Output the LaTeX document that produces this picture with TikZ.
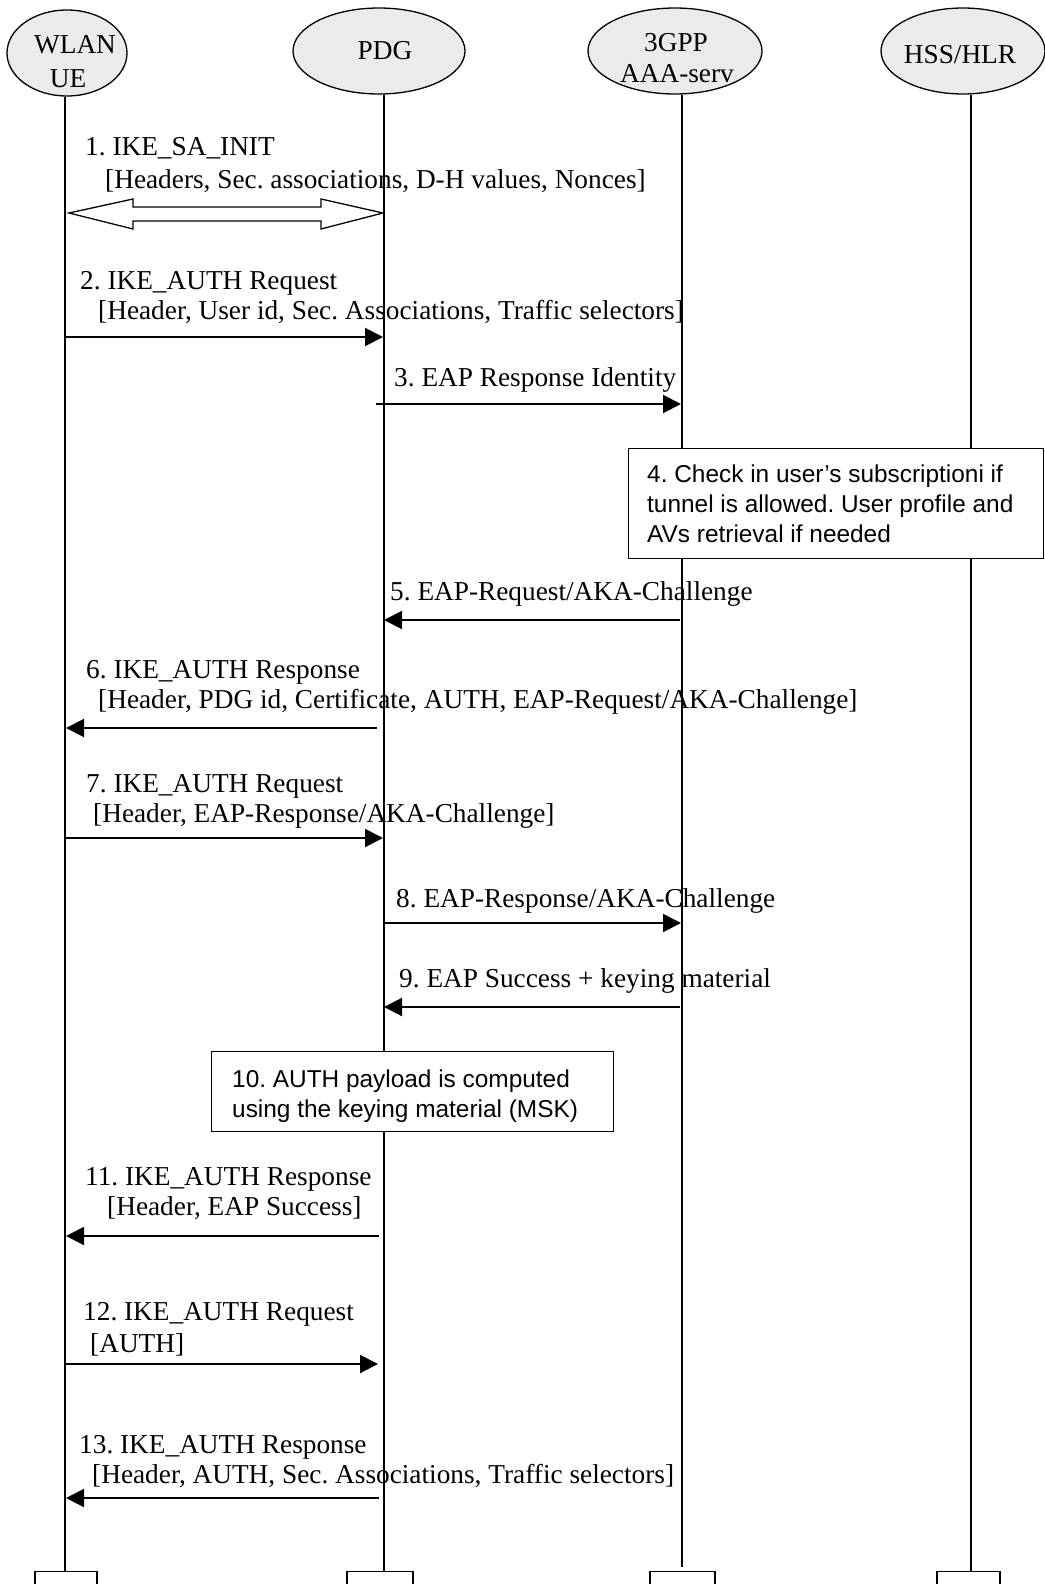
\documentclass[tikz,border=0pt]{standalone}
\usepackage{fontspec}
\setmainfont{Liberation Serif}
\newfontfamily\arialf{Liberation Sans}
\usetikzlibrary{arrows.meta,shapes.geometric}
\frenchspacing
\begin{document}
\frenchspacing
\begin{tikzpicture}[x=1pt,y=-1pt,
  actor/.style={ellipse,draw,line width=1.3pt,fill=black!8,inner sep=0pt,minimum width=#1,minimum height=86pt},
  lifeline/.style={line width=1.3pt},
  msg/.style={line width=2pt,-{Triangle[length=18pt,width=18pt]}},
  lbl/.style={font=\fontsize{27.3}{30}\selectfont,inner sep=0pt,anchor=base west},
  nlbl/.style={font=\arialf\fontsize{24.4}{30}\selectfont,inner sep=0pt,anchor=base west},
  notebox/.style={draw,line width=1.3pt,fill=white,inner sep=0pt,anchor=north west},
  endbox/.style={draw,line width=1.3pt,fill=white,inner sep=0pt,anchor=north,minimum height=40pt}
]
\fill[white] (0,0) rectangle (1044,1584);
\useasboundingbox (0,0) rectangle (1044,1584);

% actors
\node[actor=120pt,minimum height=86pt] (ue) at (67,53) {};
\node[actor=172pt] (pdg) at (379,51) {};
\node[actor=174pt] (aaa) at (675,51) {};
\node[actor=164pt] (hss) at (963,51) {};
\node[lbl,anchor=base] (uet1) at (75,54) {WLAN};
\node[lbl,anchor=base] (uet2) at (68,88) {UE};
\node[lbl,anchor=base] (pdgt) at (385,60) {PDG};
\node[lbl,anchor=base] (aaat1) at (676,52) {3GPP};
\node[lbl,anchor=base] (aaat2) at (677,83) {AAA-serv};
\node[lbl,anchor=base] (hsst) at (960,64) {HSS/HLR};

% lifeline ends
\coordinate (ueL) at (65,1571);
\coordinate (pdgL) at (384,1571);
\coordinate (aaaL) at (682,1567);
\coordinate (hssL) at (971,1571);
\draw[lifeline] (ue.south -| ueL) -- (ueL);
\draw[lifeline] (pdg.south -| pdgL) -- (pdgL);
\draw[lifeline] (aaa.south -| aaaL) -- (aaaL);
\draw[lifeline] (hss.south -| hssL) -- (hssL);

\node[endbox,minimum width=62pt] (ueEnd) at (66,1571) {};
\node[endbox,minimum width=66pt] (pdgEnd) at (380,1571) {};
\node[endbox,minimum width=65pt] (aaaEnd) at (682.5,1571) {};
\node[endbox,minimum width=63pt] (hssEnd) at (968.5,1571) {};

% 1
\node[lbl] (m1a) at (85,155) {1. IKE\_SA\_INIT};
\node[lbl] (m1b) at (105,188) {[Headers, Sec. associations, D-H values, Nonces]};
\draw[line width=1.3pt,fill=white] (69,213) -- (133,199) -- (133,207) -- (321,207) -- (321,199) -- (383,213)
  -- (321,229) -- (321,221) -- (133,221) -- (133,229) -- cycle;

% 2
\node[lbl] (m2a) at (80,289) {2. IKE\_AUTH Request};
\node[lbl] (m2b) at (98,319) {[Header, User id, Sec. Associations, Traffic selectors]};
\coordinate (a2s) at (65,337); \coordinate (a2e) at (383,337);
\draw[msg] (a2s) -- (a2e);

% 3
\node[lbl] (m3) at (394,386) {3. EAP Response Identity};
\coordinate (a3s) at (376,404); \coordinate (a3e) at (681,404);
\draw[msg] (a3s) -- (a3e);

% 4
\node[notebox,minimum width=415pt,minimum height=110pt] (n4) at (628,448) {};
\node[nlbl] (n4a) at (647,482) {4. Check in user’s subscriptioni if};
\node[nlbl] (n4b) at (647,512) {tunnel is allowed. User profile and};
\node[nlbl] (n4c) at (647,542) {AVs retrieval if needed};

% 5
\node[lbl] (m5) at (390,600) {5. EAP-Request/AKA-Challenge};
\coordinate (a5s) at (680,620); \coordinate (a5e) at (384,620);
\draw[msg] (a5s) -- (a5e);

% 6
\node[lbl] (m6a) at (86,678) {6. IKE\_AUTH Response};
\node[lbl] (m6b) at (98,708) {[Header, PDG id, Certificate, AUTH, EAP-Request/AKA-Challenge]};
\coordinate (a6s) at (377,728); \coordinate (a6e) at (66,728);
\draw[msg] (a6s) -- (a6e);

% 7
\node[lbl] (m7a) at (86,792) {7. IKE\_AUTH Request};
\node[lbl] (m7b) at (93,822) {[Header, EAP-Response/AKA-Challenge]};
\coordinate (a7s) at (65,838); \coordinate (a7e) at (383,838);
\draw[msg] (a7s) -- (a7e);

% 8
\node[lbl] (m8) at (396,907) {8. EAP-Response/AKA-Challenge};
\coordinate (a8s) at (384,923); \coordinate (a8e) at (681,923);
\draw[msg] (a8s) -- (a8e);

% 9
\node[lbl] (m9) at (399,987) {9. EAP Success + keying material};
\coordinate (a9s) at (680,1007); \coordinate (a9e) at (384,1007);
\draw[msg] (a9s) -- (a9e);

% 10
\node[notebox,minimum width=402pt,minimum height=80pt] (n10) at (211,1051) {};
\node[nlbl] (n10a) at (232,1087) {10. AUTH payload is computed};
\node[nlbl] (n10b) at (232,1117) {using the keying material (MSK)};

% 11
\node[lbl] (m11a) at (85,1185) {11. IKE\_AUTH Response};
\node[lbl] (m11b) at (107,1215) {[Header, EAP Success]};
\coordinate (a11s) at (379,1236); \coordinate (a11e) at (66,1236);
\draw[msg] (a11s) -- (a11e);

% 12
\node[lbl] (m12a) at (83,1320) {12. IKE\_AUTH Request};
\node[lbl] (m12b) at (90,1352) {[AUTH]};
\coordinate (a12s) at (65,1364); \coordinate (a12e) at (378,1364);
\draw[msg] (a12s) -- (a12e);

% 13
\node[lbl] (m13a) at (79,1453) {13. IKE\_AUTH Response};
\node[lbl] (m13b) at (92,1483) {[Header, AUTH, Sec. Associations, Traffic selectors]};
\coordinate (a13s) at (379,1498); \coordinate (a13e) at (66,1498);
\draw[msg] (a13s) -- (a13e);
\end{tikzpicture}
\end{document}
